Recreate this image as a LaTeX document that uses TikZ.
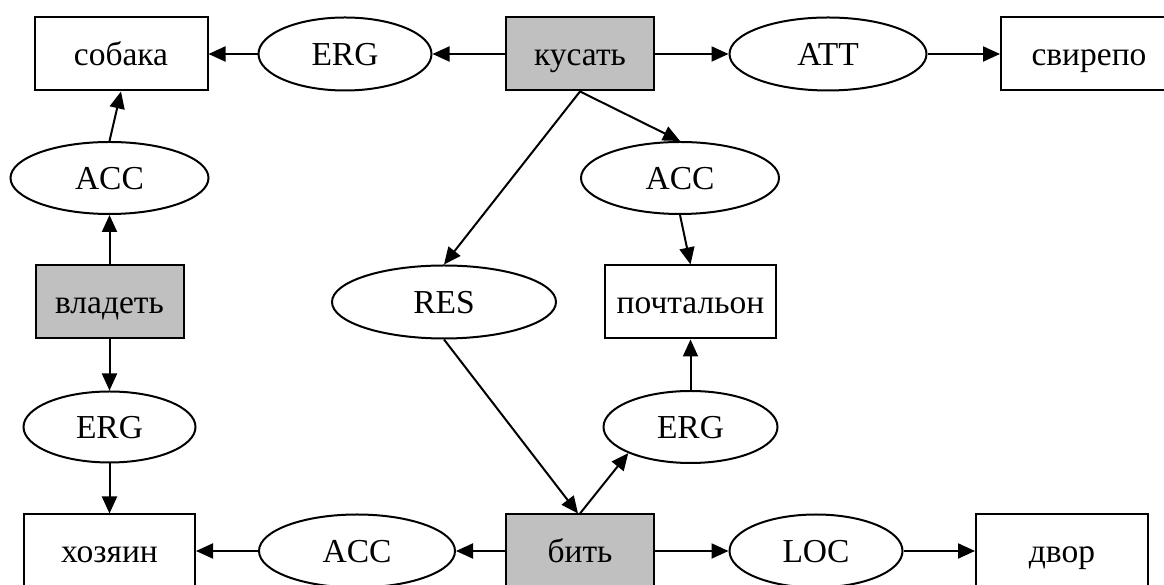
\documentclass[tikz,border=0pt]{standalone}
\usepackage{fontspec}
\setmainfont{Liberation Serif}
\usetikzlibrary{arrows.meta,shapes.geometric}
\definecolor{nodegray}{RGB}{192,192,192}
\tikzset{
  base/.style={draw=black, line width=2pt, inner sep=0pt, font=\fontsize{33.5}{40}\selectfont, minimum height=73pt, text height=25pt, text depth=1pt},
  wbox/.style={base, rectangle, fill=white},
  gbox/.style={base, rectangle, fill=nodegray},
  role/.style={base, ellipse, fill=white},
  conn/.style={line width=2pt, -{Triangle[length=17pt,width=15pt]}}
}
\begin{document}
\begin{tikzpicture}[x=1pt,y=1pt]
\useasboundingbox (0,0) rectangle (1164,585);
\clip (0,0) rectangle (1164,585);
\fill[white] (0,0) rectangle (1164,585);
% top row (y_px 54)
\node[wbox, minimum width=173pt] (sobaka) at (121,531) {собака};
\node[role, minimum width=173pt] (ergt) at (345,531) {ERG};
\node[gbox, minimum width=148pt] (kusat) at (580,531) {кусать};
\node[role, minimum width=197pt] (att) at (828,531) {ATT};
\node[wbox, minimum width=176pt] (svirepo) at (1089,531) {свирепо};
% second row (y_px 178)
\node[role, minimum width=198pt, minimum height=72pt] (accl) at (109.5,407) {ACC};
\node[role, minimum width=198pt, minimum height=72pt] (accm) at (680,407) {ACC};
% third row (y_px 302)
\node[gbox, minimum width=148pt] (vladet) at (109.5,283) {владеть};
\node[role, minimum width=224pt] (res) at (444,283) {RES};
\node[wbox, minimum width=171pt] (pocht) at (690.5,283) {почтальон};
% fourth row (y_px 427)
\node[role, minimum width=172pt, minimum height=71pt] (ergl) at (109.5,158) {ERG};
\node[role, minimum width=174pt, minimum height=72pt] (ergm) at (690.5,158) {ERG};
% bottom row (y_px 551)
\node[wbox, minimum width=171pt] (hozyain) at (109.5,34) {хозяин};
\node[role, minimum width=196pt] (accb) at (357,34) {ACC};
\node[gbox, minimum width=148pt] (bit) at (580,34) {бить};
\node[role, minimum width=173pt] (loc) at (816,34) {LOC};
\node[wbox, minimum width=172pt] (dvor) at (1062,34) {двор};
% connectors
\draw[conn] (kusat.west) -- (ergt.east);
\draw[conn] (ergt.west) -- (sobaka.east);
\draw[conn] (kusat.east) -- (att.west);
\draw[conn] (att.east) -- (svirepo.west);
\draw[conn] (kusat.south) -- (accm.north);
\draw[conn] (kusat.south) -- (res.north);
\draw[conn] (accm.south) -- (pocht.north);
\draw[conn] (vladet.north) -- (accl.south);
\draw[conn] (accl.north) -- (sobaka.south);
\draw[conn] (vladet.south) -- (ergl.north);
\draw[conn] (ergl.south) -- (hozyain.north);
\draw[conn] (res.south) -- ([xshift=-2pt]bit.north);
\draw[conn] (bit.north) -- (ergm.south west);
\draw[conn] (ergm.north) -- (pocht.south);
\draw[conn] (bit.west) -- (accb.east);
\draw[conn] (accb.west) -- (hozyain.east);
\draw[conn] (bit.east) -- (loc.west);
\draw[conn] (loc.east) -- (dvor.west);
\end{tikzpicture}
\end{document}
